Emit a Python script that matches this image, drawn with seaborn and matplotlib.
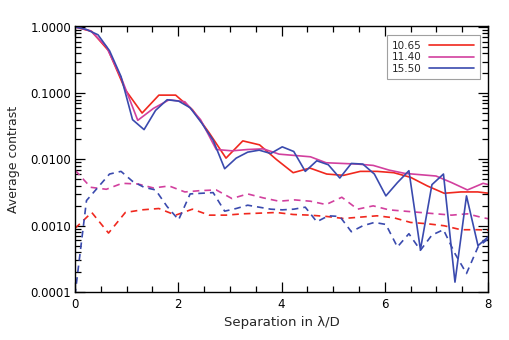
import numpy as np
import pandas as pd
import matplotlib
matplotlib.use("Agg")
import matplotlib.pyplot as plt
import matplotlib.ticker as mticker
import seaborn as sns

# ---- data (contrast as log10 values) ----
labels = ["10.65", "11.40", "15.50"]
colors = ["#f0281e", "#d2409e", "#3a4aae"]

x_1065 = [0.0, 0.325, 0.65, 0.975, 1.3, 1.625, 1.95, 2.275, 2.6, 2.925, 3.25, 3.575, 3.9,
          4.225, 4.55, 4.875, 5.2, 5.525, 5.85, 6.175, 6.5, 6.825, 7.15, 7.475, 7.8, 8.125]
solid_1065 = [0.0, -0.07, -0.36, -0.95, -1.30, -1.03, -1.03, -1.25, -1.60, -1.98, -1.72, -1.78, -2.00,
              -2.20, -2.13, -2.22, -2.24, -2.18, -2.18, -2.20, -2.27, -2.40, -2.51, -2.49, -2.49, -2.52]
dash_1065 = [-3.04, -2.80, -3.11, -2.80, -2.76, -2.74, -2.84, -2.75, -2.84, -2.84, -2.82, -2.81, -2.80,
             -2.83, -2.84, -2.86, -2.89, -2.87, -2.85, -2.88, -2.95, -2.97, -3.00, -3.06, -3.06, -3.07]

x_1140 = [0.0, 0.304, 0.608, 0.912, 1.216, 1.52, 1.824, 2.128, 2.432, 2.736, 3.04, 3.344, 3.648, 3.952,
          4.256, 4.56, 4.864, 5.168, 5.472, 5.776, 6.08, 6.384, 6.688, 6.992, 7.296, 7.6, 7.904, 8.208]
solid_1140 = [0.0, -0.06, -0.30, -0.80, -1.41, -1.23, -1.10, -1.13, -1.40, -1.85, -1.87, -1.85, -1.84, -1.92,
              -1.94, -1.96, -2.05, -2.06, -2.07, -2.09, -2.16, -2.21, -2.23, -2.25, -2.35, -2.46, -2.36, -2.42]
dash_1140 = [-2.16, -2.42, -2.45, -2.36, -2.37, -2.43, -2.40, -2.49, -2.47, -2.46, -2.59, -2.52, -2.58, -2.63,
             -2.61, -2.63, -2.68, -2.57, -2.75, -2.70, -2.76, -2.78, -2.80, -2.82, -2.84, -2.82, -2.88, -2.92]

x_1550 = [0.0, 0.223, 0.446, 0.669, 0.892, 1.115, 1.338, 1.561, 1.784, 2.007, 2.23, 2.453, 2.676,
          2.899, 3.122, 3.345, 3.568, 3.791, 4.014, 4.237, 4.46, 4.683, 4.906, 5.129, 5.352, 5.575,
          5.798, 6.021, 6.244, 6.467, 6.69, 6.913, 7.136, 7.359, 7.582, 7.805, 8.028]
solid_1550 = [0.0, -0.04, -0.12, -0.36, -0.75, -1.40, -1.55, -1.26, -1.10, -1.12, -1.22, -1.45, -1.71,
              -2.14, -1.98, -1.89, -1.86, -1.91, -1.81, -1.88, -2.18, -2.02, -2.08, -2.28, -2.06, -2.07,
              -2.22, -2.55, -2.35, -2.17, -3.36, -2.38, -2.22, -3.85, -2.55, -3.30, -3.15]
dash_1550 = [-4.05, -2.62, -2.42, -2.22, -2.18, -2.33, -2.42, -2.46, -2.71, -2.91, -2.52, -2.51, -2.50,
             -2.78, -2.74, -2.69, -2.72, -2.75, -2.76, -2.75, -2.72, -2.94, -2.85, -2.86, -3.09, -3.00,
             -2.95, -2.98, -3.32, -3.12, -3.37, -3.14, -3.06, -3.42, -3.72, -3.32, -3.18]

y_ticks = [1e-4, 1e-3, 1e-2, 1e-1, 1.0]
x_ticks = [0, 2, 4, 6, 8]

sns.set_style("ticks")
plt.rcParams["font.family"] = ["DejaVu Sans"]

fig = plt.figure(figsize=(5.1, 3.4), dpi=100)
ax = fig.add_axes([0.147, 0.141, 0.810, 0.783])

series = [(x_1065, solid_1065, dash_1065), (x_1140, solid_1140, dash_1140), (x_1550, solid_1550, dash_1550)]
for (xs, sol, das), lab, col in zip(series, labels, colors):
    df = pd.DataFrame({"x": xs, "solid": np.power(10.0, sol), "dash": np.power(10.0, das)})
    sns.lineplot(data=df, x="x", y="solid", ax=ax, color=col, lw=1.2, label=lab, sort=False)
    sns.lineplot(data=df, x="x", y="dash", ax=ax, color=col, lw=1.2, sort=False,
                 dashes=False, linestyle=(0, (4, 3)), label="_nolegend_")

ax.set_yscale("log")
ax.set_xlim(0, 8)
ax.set_ylim(1e-4, 1.035)
ax.set_yticks(y_ticks)
ax.yaxis.set_major_formatter(mticker.FuncFormatter(lambda v, p: f"{v:.4f}"))
ax.yaxis.set_minor_locator(mticker.LogLocator(base=10, subs=np.arange(2, 10)))
ax.yaxis.set_minor_formatter(mticker.NullFormatter())
ax.set_xticks(x_ticks)
ax.xaxis.set_minor_locator(mticker.MultipleLocator(0.5))

ax.tick_params(which="both", direction="in", top=True, right=True, colors="black",
               labelsize=8.5, width=0.9)
ax.tick_params(axis="y", which="major", pad=2.5)
ax.tick_params(axis="x", which="major", pad=4)
ax.tick_params(which="major", length=7)
ax.tick_params(which="minor", length=4)
for s in ax.spines.values():
    s.set_color("black")
    s.set_linewidth(1.0)

ax.set_xlabel("Separation in λ/D", fontsize=9.5, labelpad=4)
ax.set_ylabel("Average contrast", fontsize=9, labelpad=8)

leg = ax.legend(loc="upper right", bbox_to_anchor=(0.98, 0.966), markerfirst=False,
                frameon=True, fancybox=False, fontsize=7.5, handlelength=4.3,
                handletextpad=0.7, borderpad=0.55, labelspacing=0.15, borderaxespad=0.0)
leg.get_frame().set_edgecolor("#888888")
leg.get_frame().set_linewidth(0.8)

fig.savefig("out.png", dpi=100)
